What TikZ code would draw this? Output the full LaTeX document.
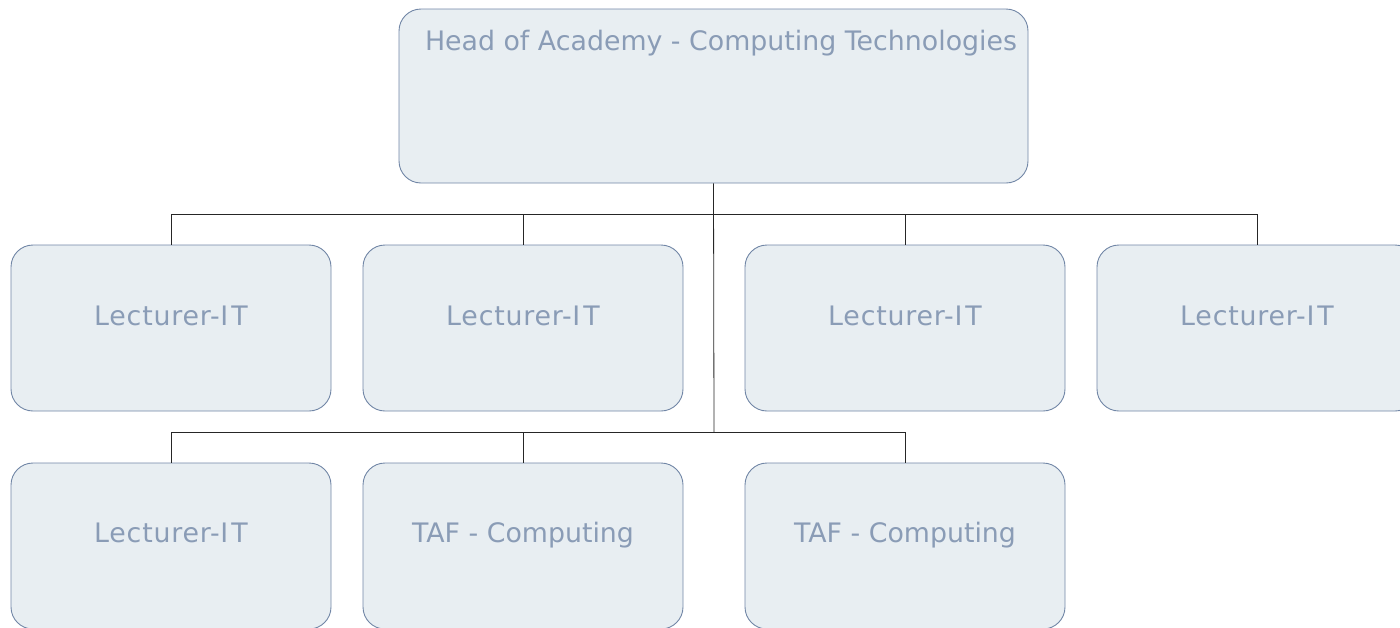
\documentclass[tikz,border=0pt]{standalone}
\usepackage{fontspec}
\setmainfont{DejaVu Sans}
\definecolor{boxfill}{HTML}{E8EEF2}
\definecolor{boxline}{HTML}{7186A6}
\definecolor{boxtext}{HTML}{8A9CB6}
\newcommand{\lectIT}{{\addfontfeature{LetterSpace=3}Lecturer-I\kern3pt T}}
\begin{document}
\begin{tikzpicture}[x=1pt,y=-1pt,
  orgbox/.style={draw=boxline, line width=0.9pt, fill=boxfill, rounded corners=22pt,
    minimum width=320pt, minimum height=166pt, inner sep=0pt},
  lbl/.style={text=boxtext, font=\fontsize{26.8}{30}\selectfont, anchor=base, inner sep=0pt},
  conn/.style={draw=black!85, line width=0.8pt}]
\useasboundingbox (0,0) rectangle (1400,627);
% top box
\node[orgbox, minimum width=629pt, minimum height=174pt] (head) at (713.5,96) {};
\node[lbl] (headtxt) at (721,50) {Head of Academy - Computing Technologies};
% row 1
\node[orgbox] (a1) at (171,328) {};
\node[orgbox] (a2) at (523,328) {};
\node[orgbox] (a3) at (905,328) {};
\node[orgbox] (a4) at (1257,328) {};
% row 2
\node[orgbox] (c1) at (171,546) {};
\node[orgbox] (c2) at (523,546) {};
\node[orgbox] (c3) at (905,546) {};
% labels
\node[lbl] (ta1) at (171,325) {\lectIT};
\node[lbl] (ta2) at (523,325) {\lectIT};
\node[lbl] (ta3) at (905,325) {\lectIT};
\node[lbl] (ta4) at (1257,325) {\lectIT};
\node[lbl] (tc1) at (171,542) {\lectIT};
\node[lbl] (tc2) at (523,542) {TAF - Computing};
\node[lbl] (tc3) at (905,542) {TAF - Computing};
% connectors
\coordinate (bus1) at (714,214);
\coordinate (bus2) at (714,432);
\draw[conn] (head.south) -- (bus2);
\draw[conn] (a1.north) -- (a1.north |- bus1) -- (a4.north |- bus1) -- (a4.north);
\draw[conn] (a2.north) -- (a2.north |- bus1);
\draw[conn] (a3.north) -- (a3.north |- bus1);
\draw[conn] (c1.north) -- (c1.north |- bus2) -- (c3.north |- bus2) -- (c3.north);
\draw[conn] (c2.north) -- (c2.north |- bus2);
\end{tikzpicture}
\end{document}
